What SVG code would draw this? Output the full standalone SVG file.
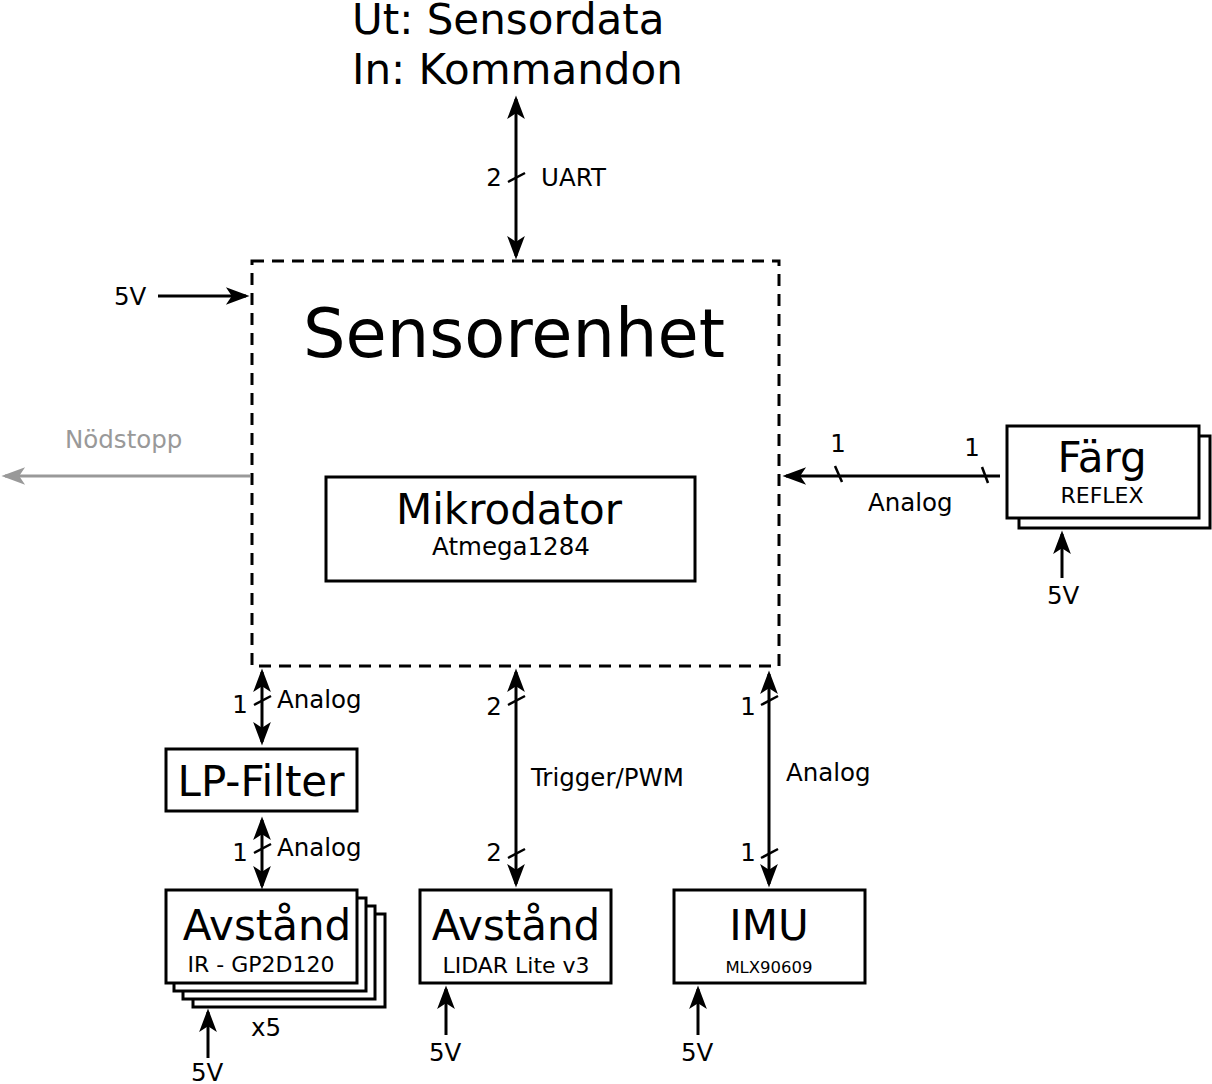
<svg xmlns="http://www.w3.org/2000/svg" width="1212" height="1084" viewBox="0 0 1212 1084">
<style>
text{font-family:"DejaVu Sans","Liberation Sans",sans-serif;fill:#000}
.box{fill:#fff;stroke:#000;stroke-width:3}
.ln{stroke:#000;stroke-width:3;fill:none}
.tk{stroke:#000;stroke-width:2.5;fill:none}
.lbl{font-size:24.5px}
.big{font-size:42px}
.sub{font-size:22px}
.mid{text-anchor:middle}
</style>
<defs>
<marker id="ah" markerUnits="userSpaceOnUse" markerWidth="26" markerHeight="20" viewBox="-18 -8 22 16" refX="0" refY="0" orient="auto-start-reverse">
<path d="M3,0 L-17,-7.5 L-12,0 L-17,7.5 Z" fill="#000"/>
</marker>
<marker id="ahg" markerUnits="userSpaceOnUse" markerWidth="26" markerHeight="20" viewBox="-18 -8 22 16" refX="0" refY="0" orient="auto-start-reverse">
<path d="M3,0 L-17,-7.5 L-12,0 L-17,7.5 Z" fill="#999"/>
</marker>
</defs>
<rect width="1212" height="1084" fill="#fff"/>

<g id="title">
<text x="352" y="34" font-size="42">Ut: Sensordata</text>
<text x="352" y="84" font-size="42">In: Kommandon</text>
</g>

<g id="sensorenhet">
<rect x="252" y="261" width="527" height="405" fill="none" stroke="#000" stroke-width="3" stroke-dasharray="12,8"/>
<text x="514" y="357" font-size="67" class="mid">Sensorenhet</text>
</g>

<g id="mikrodator">
<rect class="box" x="326" y="477" width="369" height="104"/>
<text x="509" y="524" class="big mid">Mikrodator</text>
<text x="511" y="555" class="lbl mid">Atmega1284</text>
</g>

<g id="farg">
<rect class="box" x="1019" y="436" width="191" height="92"/>
<rect class="box" x="1007" y="426" width="192" height="92"/>
<text x="1102" y="472" class="big mid">Färg</text>
<text x="1102" y="503" class="sub mid">REFLEX</text>
</g>

<g id="lpfilter">
<rect class="box" x="166" y="749" width="191" height="62"/>
<text x="261" y="796" class="big mid">LP-Filter</text>
</g>

<g id="avstand-ir">
<rect class="box" x="193" y="914" width="192" height="93"/>
<rect class="box" x="183" y="906" width="192" height="93"/>
<rect class="box" x="174" y="898" width="192" height="93"/>
<rect class="box" x="166" y="890" width="191" height="93"/>
<text x="267" y="940" class="big mid">Avstånd</text>
<text x="261" y="972" class="sub mid">IR - GP2D120</text>
<text x="251" y="1036" class="lbl">x5</text>
</g>

<g id="avstand-lidar">
<rect class="box" x="420" y="890" width="191" height="93"/>
<text x="516" y="940" class="big mid">Avstånd</text>
<text x="516" y="973" class="sub mid">LIDAR Lite v3</text>
</g>

<g id="imu">
<rect class="box" x="674" y="890" width="191" height="93"/>
<text x="769" y="940" class="big mid">IMU</text>
<text x="769" y="973" font-size="16.5" class="mid">MLX90609</text>
</g>

<g id="connectors">
<!-- UART -->
<line class="ln" x1="516" y1="99" x2="516" y2="256" marker-start="url(#ah)" marker-end="url(#ah)"/>
<line class="tk" x1="508" y1="182" x2="525" y2="173"/>
<text x="494" y="186" class="lbl mid">2</text>
<text x="541" y="186" class="lbl">UART</text>

<!-- 5V in -->
<line class="ln" x1="158" y1="296" x2="246" y2="296" marker-end="url(#ah)"/>
<text x="114" y="305" class="lbl">5V</text>

<!-- Nodstopp -->
<line x1="250" y1="476" x2="5" y2="476" stroke="#999" stroke-width="3" marker-end="url(#ahg)"/>
<text x="65" y="448" class="lbl" style="fill:#999">Nödstopp</text>

<!-- Farg -> sensorenhet -->
<line class="ln" x1="1000" y1="476" x2="786" y2="476" marker-end="url(#ah)"/>
<line class="tk" x1="835" y1="466" x2="842" y2="482"/>
<line class="tk" x1="982" y1="467" x2="988" y2="483"/>
<text x="838" y="452" class="lbl mid">1</text>
<text x="972" y="456" class="lbl mid">1</text>
<text x="868" y="511" class="lbl">Analog</text>

<!-- Farg 5V -->
<line class="ln" x1="1062" y1="578" x2="1062" y2="534" marker-end="url(#ah)"/>
<text x="1047" y="604" class="lbl">5V</text>

<!-- Sensorenhet - LP-Filter -->
<line class="ln" x1="262" y1="672" x2="262" y2="742" marker-start="url(#ah)" marker-end="url(#ah)"/>
<line class="tk" x1="254" y1="705" x2="271" y2="696"/>
<text x="240" y="713" class="lbl mid">1</text>
<text x="277" y="708" class="lbl">Analog</text>

<!-- LP-Filter - Avstand IR -->
<line class="ln" x1="262" y1="820" x2="262" y2="886" marker-start="url(#ah)" marker-end="url(#ah)"/>
<line class="tk" x1="254" y1="853" x2="271" y2="844"/>
<text x="240" y="861" class="lbl mid">1</text>
<text x="277" y="856" class="lbl">Analog</text>

<!-- IR 5V -->
<line class="ln" x1="208" y1="1058" x2="208" y2="1012" marker-end="url(#ah)"/>
<text x="191" y="1081" class="lbl">5V</text>

<!-- Sensorenhet - LIDAR -->
<line class="ln" x1="516" y1="672" x2="516" y2="884" marker-start="url(#ah)" marker-end="url(#ah)"/>
<line class="tk" x1="508" y1="705" x2="525" y2="696"/>
<line class="tk" x1="508" y1="858" x2="525" y2="849"/>
<text x="494" y="715" class="lbl mid">2</text>
<text x="494" y="861" class="lbl mid">2</text>
<text x="531" y="786" class="lbl">Trigger/PWM</text>

<!-- LIDAR 5V -->
<line class="ln" x1="446" y1="1035" x2="446" y2="989" marker-end="url(#ah)"/>
<text x="429" y="1061" class="lbl">5V</text>

<!-- Sensorenhet - IMU -->
<line class="ln" x1="769" y1="674" x2="769" y2="884" marker-start="url(#ah)" marker-end="url(#ah)"/>
<line class="tk" x1="761" y1="705" x2="778" y2="696"/>
<line class="tk" x1="761" y1="858" x2="778" y2="849"/>
<text x="748" y="715" class="lbl mid">1</text>
<text x="748" y="861" class="lbl mid">1</text>
<text x="786" y="781" class="lbl">Analog</text>

<!-- IMU 5V -->
<line class="ln" x1="698" y1="1035" x2="698" y2="989" marker-end="url(#ah)"/>
<text x="681" y="1061" class="lbl">5V</text>
</g>
</svg>
